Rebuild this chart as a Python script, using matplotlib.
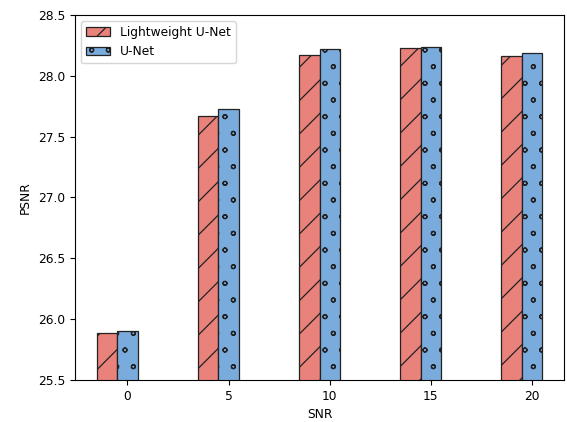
import numpy as np
import matplotlib
matplotlib.use("Agg")
import matplotlib.pyplot as plt
import matplotlib.hatch as mhatch

# smaller circles than matplotlib's default 'o' hatch
mhatch.SmallCircles.size = 0.12

plt.rcParams["font.size"] = 8.8
plt.rcParams["hatch.linewidth"] = 0.9

snr = [0, 5, 10, 15, 20]
light_unet = [25.89, 27.67, 28.17, 28.23, 28.165]
unet = [25.90, 27.73, 28.22, 28.24, 28.185]

x = np.arange(len(snr))
width = 0.2

fig, ax = plt.subplots(figsize=(5.67, 4.22), dpi=100)
fig.subplots_adjust(left=0.132, right=0.995, top=0.9645, bottom=0.0995)

ax.bar(x - width, light_unet, width, color="#e9827a", edgecolor="#222222",
       linewidth=0.9, hatch="/", label="Lightweight U-Net")
ax.bar(x, unet, width, color="#7aabdd", edgecolor="#222222",
       linewidth=0.9, hatch="o", label="U-Net")

ax.set_xticks(x)
ax.set_xticklabels(snr)
ax.set_ylim(25.5, 28.5)
ax.set_xlabel("SNR")
ax.set_ylabel("PSNR")
ax.legend(loc="upper left")

plt.savefig("out.png")
